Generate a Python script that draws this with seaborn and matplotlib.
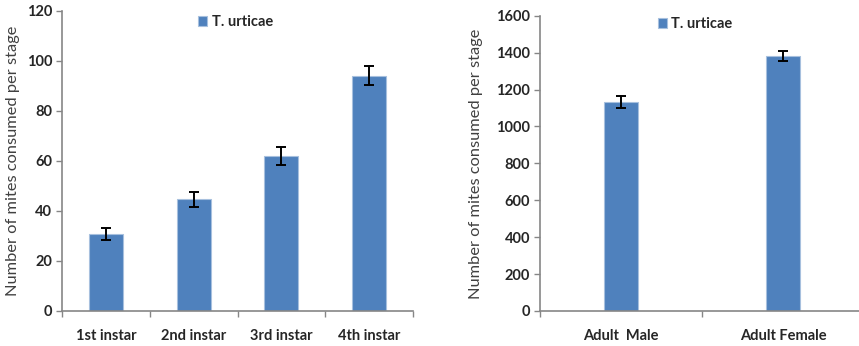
import matplotlib.pyplot as plt
import seaborn as sns
from matplotlib.ticker import FixedLocator

# data
instar_stages = ['1st instar', '2nd instar', '3rd instar', '4th instar']
instar_mean = [30.7, 44.7, 61.9, 94.1]
instar_err = [2.4, 3.1, 3.6, 3.8]

adult_stages = ['Adult  Male', 'Adult Female']
adult_mean = [1134, 1381]
adult_err = [32, 27]

y_label = 'Number of mites consumed per stage'
series = 'T. urticae'

bar_color = '#4F81BD'
spine_color = '#868686'
text_color = '#262626'

sns.set_style('white')
plt.rcParams['font.family'] = ['Lato', 'DejaVu Sans']

fig = plt.figure(figsize=(8.59, 3.46), dpi=100)
W, H = 859, 346
ax1 = fig.add_axes([62 / W, 1 - 311 / H, (413 - 62) / W, 300 / H])
ax2 = fig.add_axes([540 / W, 1 - 311 / H, (864 - 540) / W, 295.3 / H])


def draw(ax, cats, vals, errs, width, ymax, step, leg_x, leg_y):
    sns.barplot(x=cats, y=vals, ax=ax, color=bar_color, width=width,
                edgecolor='#A7C0DE', linewidth=0.8, saturation=1,
                label=series)
    ax.errorbar(range(len(cats)), vals, yerr=errs, fmt='none',
                ecolor='black', elinewidth=1.4, capsize=3.3, capthick=1.4)
    ax.set_xlim(-0.5, len(cats) - 0.5)
    ax.set_ylim(0, ymax)
    ax.set_yticks(range(0, ymax + 1, step))
    ax.xaxis.set_minor_locator(FixedLocator([i - 0.5 for i in range(len(cats) + 1)]))
    ax.tick_params(axis='x', which='major', length=0, pad=13)
    ax.tick_params(axis='x', which='minor', length=4, width=1, color=spine_color,
                   bottom=True)
    ax.tick_params(axis='y', length=4, width=1, color=spine_color, left=True,
                   pad=3)
    for lab in ax.get_xticklabels() + ax.get_yticklabels():
        lab.set_fontweight('bold')
        lab.set_fontsize(10.5)
        lab.set_color(text_color)
    ax.set_ylabel(y_label, fontsize=11.8, color='#404040')
    for s in ['top', 'right']:
        ax.spines[s].set_visible(False)
    for s in ['left', 'bottom']:
        ax.spines[s].set_color(spine_color)
        ax.spines[s].set_linewidth(1.2)
    leg = ax.legend(loc='center left', bbox_to_anchor=(leg_x, leg_y),
                    frameon=False, handlelength=0.65, handleheight=0.65,
                    handletextpad=0.3, borderaxespad=0,
                    prop={'weight': 'bold', 'size': 10.5})
    for t in leg.get_texts():
        t.set_color(text_color)


draw(ax1, instar_stages, instar_mean, instar_err, 0.39, 120, 20, 0.37, 0.963)
draw(ax2, adult_stages, adult_mean, adult_err, 0.205, 1600, 200, 0.345, 0.972)

ax1.yaxis.set_label_coords(-42 / 351, 0.5)
ax2.yaxis.set_label_coords(-57 / 324, 0.5)

fig.savefig('out.png', dpi=100, facecolor='white')
